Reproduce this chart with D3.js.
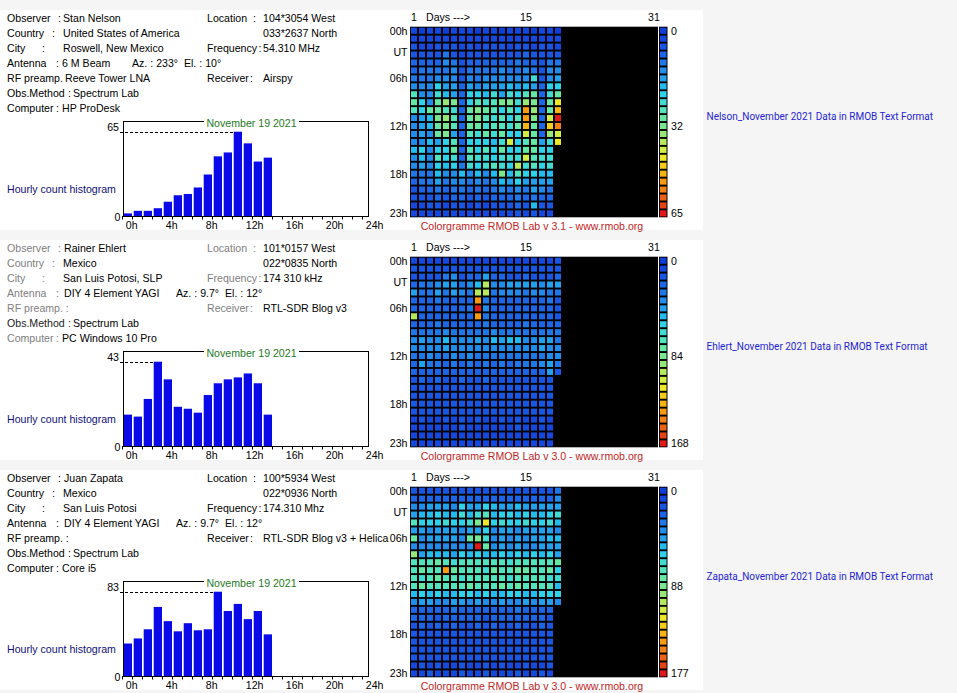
<!DOCTYPE html>
<html><head><meta charset="utf-8">
<script src="https://cdn.jsdelivr.net/npm/d3@7"></script>
<style>
html,body{margin:0;padding:0;background:#f5f5f5;}
svg{display:block;}
text{font-family:"Liberation Sans",Arial,sans-serif;font-size:10.6px;white-space:pre;}
</style></head><body>
<svg id="c" width="957" height="693"></svg>
<script>
// ---------- categories / tick labels ----------
const days = d3.range(1, 32);
const hours = d3.range(24);
const histTickLabels = ["0h","4h","8h","12h","16h","20h","24h"];
const rowLabels = [[0,"00h"],[3,"UT"],[6,"06h"],[12,"12h"],[18,"18h"],[23,"23h"]];
const dayLabels = [[1,"1"],[15,"15"],[31,"31"]];
const palette = ["#0f3fd6","#1448de","#1856e4","#1c66e8","#1f78ea","#208cec","#22a2ee","#22bcf0",
  "#2ed2ea","#40dcd4","#52e4bc","#64e8a4","#7ae88e","#96e876","#b4ea5c","#d2ee44",
  "#eee628","#f6cc1a","#f8b414","#f89a12","#f28012","#ea6212","#e24412","#e01818"];

// ---------- station texts ----------
const nelsonLeft = [["Observer","Stan Nelson"],["Country","United States of America"],["City","Roswell, New Mexico"],["Antenna","6 M Beam"],["RF preamp.","Reeve Tower LNA"],["Obs.Method","Spectrum Lab"],["Computer","HP ProDesk"]];
const nelsonRight = [["Location","104*3054 West"],["","033*2637 North"],["Frequency","54.310 MHz"],["Receiver","Airspy"]];
const nelsonAz = "Az. : 233°  El. : 10°";
const ehlertLeft = [["Observer","Rainer Ehlert"],["Country","Mexico"],["City","San Luis Potosi, SLP"],["Antenna","DIY 4 Element YAGI"],["RF preamp. :",""],["Obs.Method","Spectrum Lab"],["Computer","PC Windows 10 Pro"]];
const ehlertRight = [["Location","101*0157 West"],["","022*0835 North"],["Frequency","174 310 kHz"],["Receiver","RTL-SDR Blog v3"]];
const ehlertAz = "Az. : 9.7°  El. : 12°";
const zapataLeft = [["Observer","Juan Zapata"],["Country","Mexico"],["City","San Luis Potosi"],["Antenna","DIY 4 Element YAGI"],["RF preamp. :",""],["Obs.Method","Spectrum Lab"],["Computer","Core i5"]];
const zapataRight = [["Location","100*5934 West"],["","022*0936 North"],["Frequency","174.310 Mhz"],["Receiver","RTL-SDR Blog v3 + Helical"]];
const zapataAz = "Az. : 9.7°  El. : 12°";
const histTitle = "November 19 2021";
const versions = ["Colorgramme RMOB Lab v 3.1 - www.rmob.org","Colorgramme RMOB Lab v 3.0 - www.rmob.org","Colorgramme RMOB Lab v 3.0 - www.rmob.org"];
const links = ["Nelson_November 2021 Data in RMOB Text Format","Ehlert_November 2021 Data in RMOB Text Format","Zapata_November 2021 Data in RMOB Text Format"];

// ---------- hourly counts, Nov 19 (hours 0..14) ----------
const nelsonHist = [2,4,4,6,11,16,17,22,32,46,49,65,56,42,45];
const ehlertHist = [16,15,24,43,34,20,19,17,26,32,34,35,37,32,16];
const zapataHist = [32,37,46,68,54,44,52,45,46,83,64,71,56,64,41];
const legendMax = [65,168,177];

// ---------- colorgram counts: rows = hours 0..23, columns = days 1..18 ----------
const nelsonGrid = [
[4,2,4,3,1,4,5,3,2,4,3,1,4,5,3,2,4,3],
[4,3,5,4,3,4,5,3,4,5,4,3,4,5,4,3,4,5],
[6,4,5,7,6,7,5,6,4,7,6,7,5,6,7,4,6,7],
[7,6,7,6,12,7,5,6,7,6,7,8,6,7,9,6,7,6],
[9,10,9,9,15,12,7,9,10,9,9,10,9,12,10,9,7,12],
[9,12,12,11,12,15,7,12,11,12,12,15,12,11,15,12,7,14],
[12,11,12,15,14,15,7,15,12,14,15,15,14,15,15,26,7,15],
[15,14,15,23,18,17,9,18,15,17,18,17,20,18,20,17,9,23],
[28,15,14,26,20,18,9,23,23,20,26,18,26,23,28,31,9,26],
[31,23,15,31,37,34,9,23,28,26,28,34,34,26,37,34,9,31],
[28,23,31,31,28,26,9,31,34,31,28,23,28,23,53,37,9,31],
[15,18,20,34,37,28,9,31,34,28,26,28,23,28,53,34,9,42],
[15,18,20,31,34,28,9,31,31,26,28,28,26,31,50,31,9,47],
[15,18,15,31,34,18,9,28,26,31,26,31,23,23,42,31,9,37],
[15,14,20,18,23,28,9,23,23,23,20,26,42,23,28,31,18,26],
[20,23,15,23,23,31,9,28,23,28,23,31,23,23,31,31,23,23],
[15,20,15,28,23,26,9,28,26,26,23,26,26,26,42,28,26,26],
[15,18,15,23,20,23,12,26,23,26,28,26,23,39,26,28,23,26],
[12,12,11,20,15,14,20,15,20,14,20,34,20,28,23,23,20,20],
[9,12,11,18,12,15,15,11,15,12,15,20,18,23,18,17,18,17],
[7,9,9,12,9,12,11,9,12,9,12,15,12,14,11,18,15,12],
[6,7,6,9,7,9,9,6,9,7,9,9,10,12,9,11,9,9],
[4,5,6,7,4,6,7,5,6,4,7,6,7,9,6,20,6,7],
[4,3,5,4,4,3,5,4,3,5,4,4,3,6,4,7,4,3]];
const ehlertGrid = [
[10,11,9,12,10,13,11,10,12,9,11,13,10,12,11,10,13,12],
[16,17,15,18,16,17,15,18,17,16,15,18,17,16,17,15,18,16],
[17,16,18,17,31,38,17,24,25,45,24,23,17,18,24,16,17,18],
[24,31,30,38,45,44,31,38,52,101,38,37,45,44,45,45,38,44],
[45,31,30,45,31,44,38,31,101,101,31,38,37,38,31,38,37,31],
[24,25,24,31,23,24,25,24,136,31,24,23,25,24,24,25,23,31],
[24,23,25,24,24,23,25,31,168,38,24,25,23,24,25,24,23,24],
[101,24,23,25,24,23,24,25,136,31,24,23,24,25,23,24,25,24],
[24,25,24,31,24,23,25,24,24,31,24,25,23,24,31,24,25,24],
[31,30,31,32,38,31,30,31,32,31,38,30,31,32,31,30,31,32],
[38,45,37,38,52,38,37,38,45,38,52,45,52,52,38,37,45,45],
[38,37,38,39,45,38,37,38,39,38,37,38,39,38,37,38,45,38],
[31,30,38,31,32,38,31,38,30,31,32,31,30,31,32,31,30,38],
[24,45,31,31,24,31,24,31,24,31,24,31,24,31,31,31,38,45],
[24,25,24,23,25,24,23,24,25,24,23,24,25,24,23,24,25,45],
[17,24,16,24,17,18,24,17,16,24,17,18,16,17,18,17,16,17],
[17,16,18,17,16,18,17,16,17,18,16,17,18,16,17,18,16,17],
[16,17,18,16,17,16,18,17,16,17,18,16,17,18,16,17,16,18],
[17,18,16,17,18,16,17,16,18,17,16,18,16,17,18,16,17,16],
[16,17,16,18,17,16,18,17,16,18,17,16,17,16,18,17,16,17],
[11,16,12,13,17,11,16,12,17,13,11,16,12,17,11,13,16,12],
[10,12,11,13,10,12,16,11,10,12,13,11,10,16,12,11,13,10],
[10,11,9,12,10,11,12,9,10,11,12,10,9,11,10,12,11,10],
[9,10,11,9,10,12,9,11,10,9,11,10,12,9,10,11,9,10]];
const zapataGrid = [
[18,17,19,18,20,17,18,19,17,18,20,18,17,19,18,20,17,18],
[26,25,27,26,24,26,27,25,26,27,25,26,24,26,27,25,26,27],
[41,40,48,47,48,41,63,48,47,63,55,48,47,55,48,47,48,48],
[48,55,55,63,55,56,70,55,70,77,55,63,62,55,63,56,55,63],
[77,63,62,63,70,63,62,70,92,122,63,70,62,63,70,63,62,70],
[48,47,41,48,47,48,41,48,47,63,41,48,47,41,48,47,48,47],
[85,41,48,47,48,47,41,85,92,70,41,48,41,47,41,48,47,55],
[41,40,42,41,40,41,42,40,177,85,41,48,40,48,41,42,48,47],
[100,48,55,56,55,48,63,55,63,55,56,63,55,63,55,63,56,63],
[77,78,76,85,77,70,77,78,76,77,78,77,70,77,76,78,77,76],
[77,85,76,78,144,85,77,76,78,70,85,77,76,85,85,77,78,85],
[77,70,78,85,76,77,70,78,77,76,78,77,70,76,78,77,76,70],
[76,85,77,78,76,77,78,85,77,76,78,85,77,85,76,78,77,76],
[55,62,56,63,55,56,63,62,55,63,56,55,62,63,56,55,63,62],
[41,48,47,41,42,48,47,41,48,42,41,48,41,42,48,41,47,48],
[26,27,25,26,27,33,26,25,27,26,25,27,26,33,25,26,27,26],
[26,25,27,18,26,25,27,26,25,18,26,27,25,26,27,25,26,18],
[20,26,18,25,19,26,20,18,26,19,25,20,18,26,19,20,25,18],
[18,19,20,18,17,19,18,20,17,18,19,20,18,17,19,18,20,17],
[19,18,17,20,18,19,17,18,20,19,18,17,19,18,20,17,19,18],
[18,17,19,18,20,17,18,19,17,18,20,18,17,19,18,20,17,18],
[17,18,19,17,18,20,19,17,18,19,17,18,20,17,19,18,17,19],
[12,18,13,17,12,14,18,12,13,17,12,18,13,12,17,13,12,18],
[12,13,17,12,14,12,18,13,12,17,12,13,12,18,12,13,17,12]];

// ---------- drawing ----------
const svg = d3.select("#c");
svg.append("rect").attr("width",957).attr("height",693).attr("fill","#f5f5f5");
svg.append("defs").append("clipPath").attr("id","clipL")
  .append("rect").attr("x",0).attr("y",0).attr("width",389).attr("height",693);

const panels = [
  {left:nelsonLeft,right:nelsonRight,az:nelsonAz,hist:nelsonHist,grid:nelsonGrid,max:legendMax[0],gray:false,azX:132,valX:63},
  {left:ehlertLeft,right:ehlertRight,az:ehlertAz,hist:ehlertHist,grid:ehlertGrid,max:legendMax[1],gray:true,azX:176,valX:64},
  {left:zapataLeft,right:zapataRight,az:zapataAz,hist:zapataHist,grid:zapataGrid,max:legendMax[2],gray:false,azX:176,valX:64}
];
const colonX = {"Observer":58,"Country":52,"City":42,"Antenna":56,"Obs.Method":68,"Computer":56,"Location":253,"Frequency":258.5,"Receiver":250};
const valueX = {"Country":63,"City":63,"RF preamp.":65,"Obs.Method":73,"Computer":62};

panels.forEach((p, i) => {
  const off = i * 230;
  const g = svg.append("g").attr("transform", `translate(0,${off})`);
  g.append("rect").attr("x",0).attr("y",10).attr("width",703).attr("height",220).attr("fill","#fff");
  const labelCol = p.gray ? "#808080" : "#000";
  const lineY = k => 21.5 + 15 * k;

  // left info
  p.left.forEach(([lab, val], k) => {
    const labCol = (p.gray && lab === "Obs.Method") ? "#222" : labelCol;
    g.append("text").attr("x",7).attr("y",lineY(k)).attr("fill",labCol).text(lab);
    if (colonX[lab] !== undefined) g.append("text").attr("x",colonX[lab]).attr("y",lineY(k)).attr("fill",labCol).text(":");
    let vx = valueX[lab] !== undefined ? valueX[lab] : (lab === "Antenna" ? p.valX - (i===0?1:0) : p.valX);
    if (val) g.append("text").attr("x",vx).attr("y",lineY(k)).attr("fill","#000").text(val);
  });
  g.append("text").attr("x",p.azX).attr("y",lineY(3)).attr("fill","#000").text(p.az);

  // right info (lines 0,1,2,4)
  const rLines = [0,1,2,4];
  p.right.forEach(([lab, val], k) => {
    const y = lineY(rLines[k]);
    if (lab) {
      g.append("text").attr("x",207).attr("y",y).attr("fill",labelCol).text(lab);
      g.append("text").attr("x",colonX[lab]).attr("y",y).attr("fill",labelCol).text(":");
    }
    g.append("text").attr("x",263).attr("y",y).attr("fill","#000")
      .attr("clip-path", "url(#clipL)").text(val);
  });

  // ---------- histogram ----------
  const hmax = d3.max(p.hist);
  const hmaxIdx = p.hist.indexOf(hmax);
  const xh = d3.scaleLinear().domain([0,24]).range([123,363]);
  const yh = d3.scaleLinear().domain([0,hmax]).range([216,131.7]);
  g.append("text").attr("x",7).attr("y",193).attr("fill","#10107a").text("Hourly count histogram");
  g.selectAll(".bar").data(p.hist).enter().append("rect")
    .attr("x",(d,h)=>xh(h)+0.7).attr("width",8.3)
    .attr("y",d=>yh(d)).attr("height",d=>216-yh(d))
    .attr("fill","#0a0ae8");
  g.append("rect").attr("x",123.5).attr("y",121.5).attr("width",245).attr("height",95)
    .attr("fill","none").attr("stroke","#000").attr("stroke-width",1);
  g.append("rect").attr("x",204).attr("y",117).attr("width",95).attr("height",10).attr("fill","#fff");
  g.append("text").attr("x",251.5).attr("y",126.5).attr("text-anchor","middle").attr("fill","#1e7b1e").text(histTitle);
  g.append("line").attr("x1",120).attr("x2",xh(hmaxIdx)+0.7).attr("y1",Math.round(yh(hmax))+0.5).attr("y2",Math.round(yh(hmax))+0.5)
    .attr("stroke","#000").attr("stroke-dasharray","3,2");
  g.append("text").attr("x",119).attr("y",yh(hmax)-0.5).attr("text-anchor","end").text(hmax);
  g.append("text").attr("x",120.5).attr("y",221).attr("text-anchor","end").text("0");
  g.selectAll(".tk").data(d3.range(25)).enter().append("line")
    .attr("x1",h=>Math.round(xh(h))-0.5).attr("x2",h=>Math.round(xh(h))-0.5)
    .attr("y1",216).attr("y2",219.5).attr("stroke","#000");
  histTickLabels.forEach((t,k)=>{
    g.append("text").attr("x",xh(k*4)+2.8).attr("y",228.8).text(t);
  });

  // ---------- colorgram ----------
  const xc = d3.scaleBand().domain(days).range([410,658]);
  const yc = d3.scaleBand().domain(hours).range([26.7,217.3]);
  const color = d3.scaleQuantize().domain([0,p.max]).range(palette);
  g.append("rect").attr("x",410).attr("y",26.7).attr("width",248).attr("height",190.6).attr("fill","#000");
  const cells = [];
  p.grid.forEach((row,h)=>row.forEach((v,d)=>cells.push({day:d+1,hour:h,v})));
  p.hist.forEach((v,h)=>cells.push({day:19,hour:h,v}));
  g.selectAll(".cell").data(cells).enter().append("rect")
    .attr("x",d=>xc(d.day)+1).attr("y",d=>yc(d.hour)+1)
    .attr("width",xc.bandwidth()-2).attr("height",yc.bandwidth()-1.9)
    .attr("fill",d=>color(d.v));
  // legend
  g.append("rect").attr("x",659).attr("y",26.7).attr("width",8.5).attr("height",190.6).attr("fill","#000");
  g.selectAll(".leg").data(palette).enter().append("rect")
    .attr("x",660).attr("y",(c,k)=>yc(k)+1).attr("width",6.5).attr("height",yc.bandwidth()-1.9)
    .attr("fill",c=>c);
  [[0,0],[12,Math.floor(p.max/2)],[23,p.max]].forEach(([k,t])=>{
    g.append("text").attr("x",671).attr("y",yc(k)+yc.bandwidth()/2+4).text(t);
  });
  rowLabels.forEach(([h,t])=>{
    const dy = t === "UT" ? -2 : 0;
    g.append("text").attr("x",407.5).attr("y",yc(h)+yc.bandwidth()/2+4+dy).attr("text-anchor","end").text(t);
  });
  dayLabels.forEach(([d,t])=>{
    g.append("text").attr("x",xc(d)+xc.bandwidth()/2).attr("y",21).attr("text-anchor","middle").text(t);
  });
  g.append("text").attr("x",426).attr("y",21).text("Days --->");
  g.append("text").attr("x",532).attr("y",229.5).attr("text-anchor","middle").attr("fill","#c41e1e").text(versions[i]);

  // link
  svg.append("text").attr("x",706.5).attr("y",119.5+off).attr("fill","#1f1fd6")
    .style("font-family","Roboto, 'Liberation Sans', sans-serif").style("font-size","10px").text(links[i]);
});
</script>
</body></html>
